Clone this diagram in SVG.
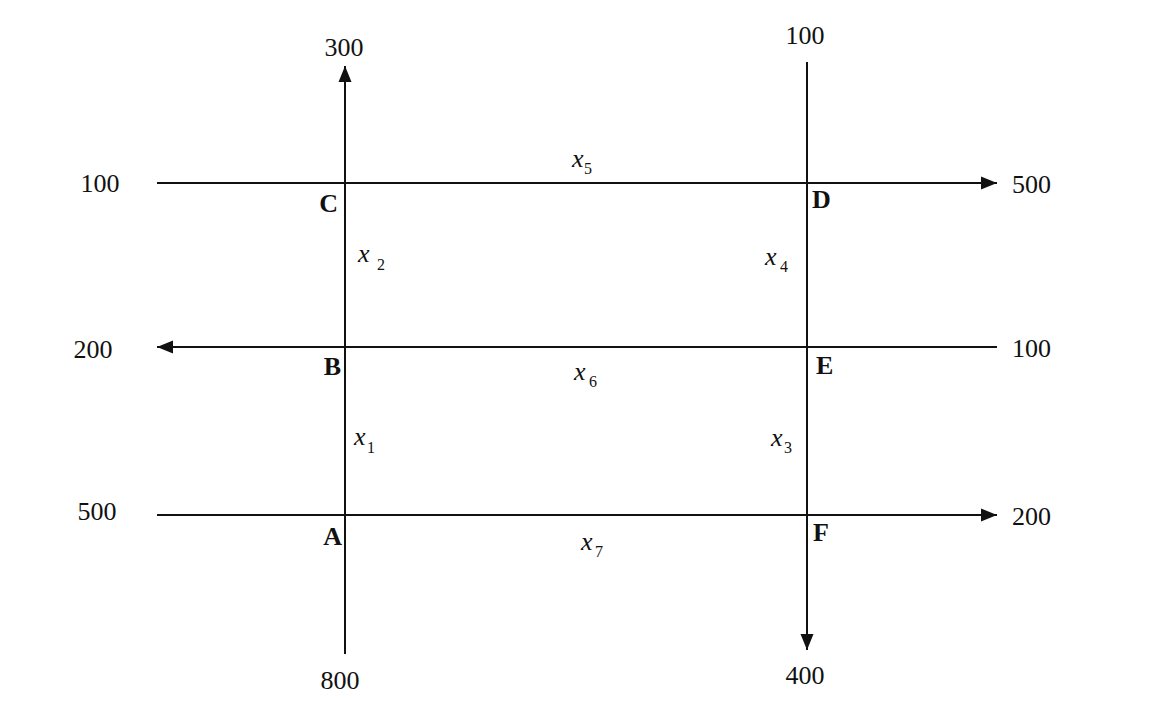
<svg xmlns="http://www.w3.org/2000/svg" width="1152" height="708" viewBox="0 0 1152 708">
<style>
.ln{stroke:#111;stroke-width:2;fill:none}
.num{font-family:"Liberation Serif",serif;font-size:26px;fill:#111}
.pt{font-family:"Liberation Serif",serif;font-size:26px;font-weight:bold;fill:#111}
.var{font-family:"Liberation Serif",serif;font-size:26px;font-style:italic;fill:#111}
.sub{font-family:"Liberation Serif",serif;font-size:16px;fill:#111}
</style>
<defs>
<marker id="ah" markerUnits="userSpaceOnUse" markerWidth="18" markerHeight="14" refX="16" refY="7" orient="auto">
<path d="M0,0.5 L16,7 L0,13.5 Z" fill="#111"/>
</marker>
</defs>
<rect width="1152" height="708" fill="#fff"/>
<g id="connectors">
<line class="ln" x1="345" y1="654" x2="345" y2="66" marker-end="url(#ah)"/>
<line class="ln" x1="807" y1="62" x2="807" y2="650" marker-end="url(#ah)"/>
<line class="ln" x1="157" y1="183" x2="997" y2="183" marker-end="url(#ah)"/>
<line class="ln" x1="997" y1="347" x2="157" y2="347" marker-end="url(#ah)"/>
<line class="ln" x1="157" y1="515" x2="997" y2="515" marker-end="url(#ah)"/>
</g>
<g id="flows">
<text class="num" x="344" y="56" text-anchor="middle">300</text>
<text class="num" x="805" y="44" text-anchor="middle">100</text>
<text class="num" x="100" y="192" text-anchor="middle">100</text>
<text class="num" x="1012" y="193">500</text>
<text class="num" x="93" y="358" text-anchor="middle">200</text>
<text class="num" x="1012" y="357">100</text>
<text class="num" x="97" y="520" text-anchor="middle">500</text>
<text class="num" x="1012" y="525">200</text>
<text class="num" x="340" y="689" text-anchor="middle">800</text>
<text class="num" x="805" y="684" text-anchor="middle">400</text>
</g>
<g id="node-C"><text class="pt" x="338" y="212" text-anchor="end">C</text></g>
<g id="node-D"><text class="pt" x="812" y="208">D</text></g>
<g id="node-B"><text class="pt" x="341" y="375" text-anchor="end">B</text></g>
<g id="node-E"><text class="pt" x="816" y="374">E</text></g>
<g id="node-A"><text class="pt" x="342" y="545" text-anchor="end">A</text></g>
<g id="node-F"><text class="pt" x="813" y="541">F</text></g>
<g id="vars">
<text class="var" x="572" y="167">x</text><text class="sub" x="584" y="174">5</text>
<text class="var" x="358" y="262">x</text><text class="sub" x="377" y="270">2</text>
<text class="var" x="765" y="265">x</text><text class="sub" x="780" y="272">4</text>
<text class="var" x="354" y="445">x</text><text class="sub" x="367" y="453">1</text>
<text class="var" x="771" y="446">x</text><text class="sub" x="784" y="453">3</text>
<text class="var" x="574" y="380">x</text><text class="sub" x="589" y="387">6</text>
<text class="var" x="581" y="550">x</text><text class="sub" x="595" y="557">7</text>
</g>
</svg>
